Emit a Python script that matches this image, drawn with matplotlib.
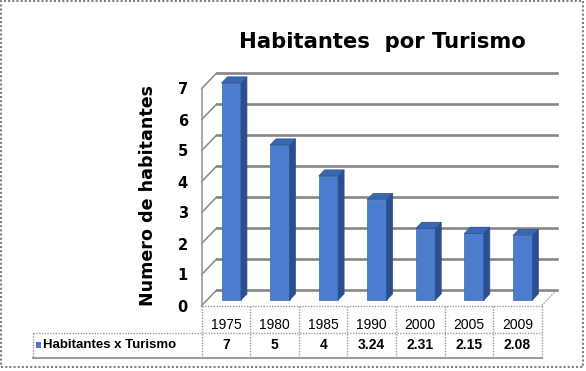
import numpy as np
import matplotlib
matplotlib.use('Agg')
import matplotlib.pyplot as plt
from matplotlib.patches import Polygon, Rectangle

years = ['1975', '1980', '1985', '1990', '2000', '2005', '2009']
habitantes = [7, 5, 4, 3.24, 2.31, 2.15, 2.08]
value_labels = ['7', '5', '4', '3.24', '2.31', '2.15', '2.08']
serie = 'Habitantes x Turismo'
yticks = [0, 1, 2, 3, 4, 5, 6, 7]

W, H = 586, 371
fig = plt.figure(figsize=(W / 100, H / 100), dpi=100)
fig.patch.set_facecolor('white')

# plot area (front plane), pixel based placement
x_left, x_right = 201.7, 541.7
y_zero, unit = 305.5, 31.0
ax = fig.add_axes([x_left / W, (H - y_zero) / H, (x_right - x_left) / W, 7 * unit / H])
n = len(years)
ax.set_xlim(0, n)
ax.set_ylim(0, 7)
for s in ax.spines.values():
    s.set_visible(False)
ax.set_xticks([])
ax.set_facecolor('none')

cat_px = (x_right - x_left) / n
dx = 15 / cat_px      # depth offset in category units
dy = 15.5 / unit      # depth offset in value units

grid_c = '#868686'
# back wall + side wall gridlines
for v in yticks:
    ax.plot([dx, n + dx], [v + dy, v + dy], color=grid_c, lw=1.9, clip_on=False, zorder=1)
    ax.plot([0, dx], [v, v + dy], color=grid_c, lw=1.1, clip_on=False, zorder=1)
# floor edges
ax.plot([n, n + dx], [0, dy], color='#9a9a9a', lw=1.0, ls=(0, (1, 1)), clip_on=False, zorder=1)
ax.plot([0, 0], [0, 7], color='#9a9a9a', lw=1.2, clip_on=False, zorder=2)

# 3d bars
front_c, side_c, top_c = '#4b7dce', '#2b4f8e', '#3a67b3'
f0, f1 = 0.35, 0.75
bw = 0.4
for i, v in enumerate(habitantes):
    x0 = i + 0.5 - bw / 2
    x1 = i + 0.5 + bw / 2
    a0, b0 = f0 * dx, f0 * dy
    a1, b1 = f1 * dx, f1 * dy
    front = Polygon([(x0 + a0, b0), (x1 + a0, b0), (x1 + a0, v + b0), (x0 + a0, v + b0)],
                    closed=True, fc=front_c, ec='#3a66b0', lw=0.5, zorder=3, clip_on=False)
    side = Polygon([(x1 + a0, b0), (x1 + a1, b1), (x1 + a1, v + b1), (x1 + a0, v + b0)],
                   closed=True, fc=side_c, ec=side_c, lw=0.5, zorder=3, clip_on=False)
    top = Polygon([(x0 + a0, v + b0), (x1 + a0, v + b0), (x1 + a1, v + b1), (x0 + a1, v + b1)],
                  closed=True, fc=top_c, ec='#2b4f8e', lw=0.5, zorder=3, clip_on=False)
    for p in (front, side, top):
        ax.add_patch(p)

# y tick labels
ax.set_yticks(yticks)
ax.set_yticklabels([str(t) for t in yticks], fontsize=10.5, fontweight='bold')
ax.tick_params(axis='y', length=0, pad=10)

# data table
tbl_c = '#9a9a9a'
h1 = 27 / unit
h2 = (27 + 25) / unit
leg_x = (33 - x_left) / cat_px
for k in range(n + 1):
    ax.plot([k, k], [0, -h2], color=tbl_c, lw=1.0, ls=(0, (1, 1)), clip_on=False)
ax.plot([0, n], [0, 0], color=tbl_c, lw=1.0, ls=(0, (1, 1)), clip_on=False)
ax.plot([leg_x, n], [-h1, -h1], color=tbl_c, lw=1.0, ls=(0, (1, 1)), clip_on=False)
ax.plot([leg_x, n], [-h2, -h2], color=tbl_c, lw=1.4, clip_on=False)
ax.plot([leg_x, leg_x], [-h1, -h2], color=tbl_c, lw=1.0, ls=(0, (1, 1)), clip_on=False)

yr_y = -(325 - y_zero) / unit
val_y = -(345 - y_zero) / unit
for i in range(n):
    ax.text(i + 0.5, yr_y, years[i], ha='center', va='center', fontsize=10,
            family='Liberation Sans', color='black')
    ax.text(i + 0.5, val_y, value_labels[i], ha='center', va='center', fontsize=10,
            family='Liberation Sans', fontweight='bold', color='black')
key_w = 5 / cat_px
key_h = 6 / unit
ax.add_patch(Rectangle(((36 - x_left) / cat_px, val_y - key_h / 2), key_w, key_h,
                       fc=front_c, ec='none', clip_on=False))
ax.text((43 - x_left) / cat_px, val_y, serie, ha='left', va='center', fontsize=9.5,
        family='Liberation Sans', fontweight='bold', color='black')

# titles
fig.text(382 / W, 1 - 42 / H, 'Habitantes  por Turismo', ha='center', va='center',
         fontsize=15.2, fontweight='bold')
fig.text(148 / W, 1 - 195 / H, 'Numero de habitantes', ha='center', va='center',
         rotation=90, fontsize=12.6, fontweight='bold')

# chart border
fig.patches.append(Rectangle((1 / W, 4 / H), 582 / W, 366 / H, transform=fig.transFigure,
                             fill=False, ec='#808080', lw=1.5, ls=(0, (1, 1))))

fig.savefig('out.png', dpi=100)
